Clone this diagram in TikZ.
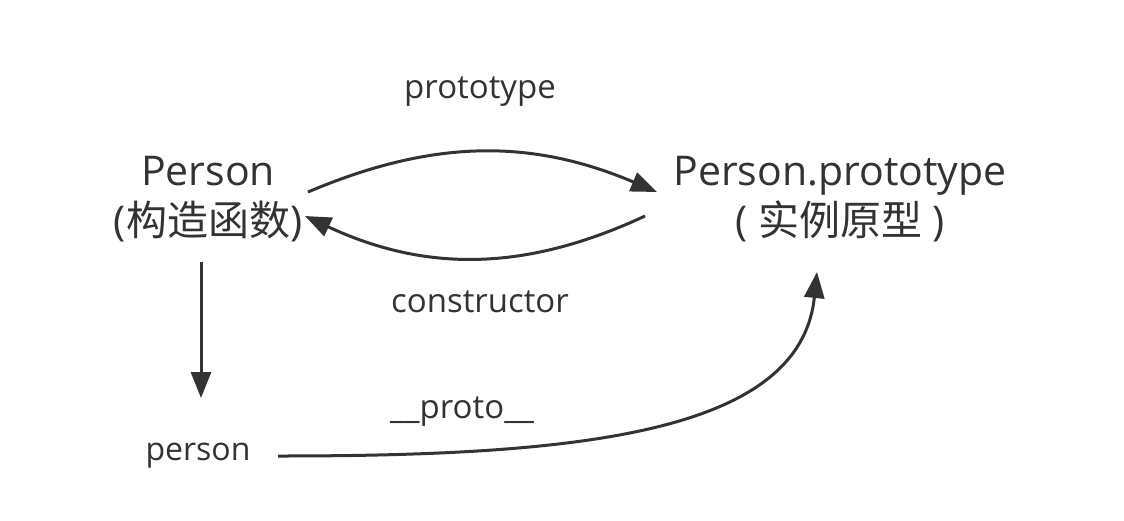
\documentclass[tikz,border=0pt]{standalone}
\usepackage{fontspec}
\setmainfont{Open Sans}
\newfontfamily\cjk{Noto Sans CJK SC}
\usetikzlibrary{arrows.meta}
\definecolor{ink}{HTML}{333333}
\begin{document}
\begin{tikzpicture}[x=1pt,y=-1pt]
  \tikzstyle{term}=[text=ink, font=\fontsize{41}{50}\selectfont, align=center, inner sep=0pt]
  \tikzstyle{edgetext}=[text=ink, font=\fontsize{33}{40}\selectfont, inner sep=0pt]
  \tikzstyle{link}=[draw=ink, line width=3pt, -{Triangle[length=26pt,width=20pt]}]
  \useasboundingbox[fill=white] (0,0) rectangle (1124,520);
  \node[term] (ctor) at (208,199) {Person\\({\cjk 构造函数})};
  \node[term] (proto) at (840,199) {Person.prototype\\( {\cjk 实例原型} )};
  \node[edgetext, font=\fontsize{32}{40}\selectfont] (person) at (198,456) {person};
  \node[edgetext] (ptext) at (480,92) {prototype};
  \node[edgetext] (ctext) at (480,302) {constructor};
  \node[edgetext] (utext) at (462,412) {\_\_proto\_\_};
  \draw[link] ([shift={(100,-7)}]ctor.center) to[bend left=23] ([shift={(-183,-7)}]proto.center);
  \draw[link] ([shift={(-195,17)}]proto.center) to[bend left=25] ([shift={(97,17)}]ctor.center);
  \draw[link] ([shift={(-7,63)}]ctor.center) -- ([shift={(3,-58)}]person.center);
  \draw[link] ([shift={(80,0)}]person.center) .. controls +(300,0) and +(-17,162) .. ([shift={(-23,73)}]proto.center);
\end{tikzpicture}
\end{document}
